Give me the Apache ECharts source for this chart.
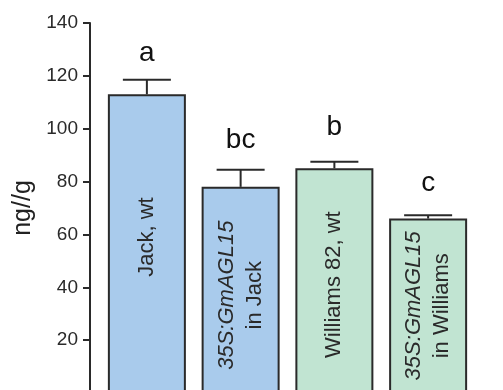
<!DOCTYPE html>
<html><head><meta charset="utf-8">
<script src="https://cdn.jsdelivr.net/npm/echarts@6/dist/echarts.min.js"></script>
<style>html,body{margin:0;padding:0;background:#fff}#c{width:503px;height:390px}</style>
</head><body><div id="c"></div>
<script>
const categories = ['Jack, wt', '35S:GmAGL15 in Jack', 'Williams 82, wt', '35S:GmAGL15 in Williams'];
const values = [113, 78, 85, 66];
const errors = [5.5, 6.5, 2.5, 1.3];
const letters = ['a', 'bc', 'b', 'c'];
const letterPos = [128.6, 95.6, 100.5, 79.5];
const barTextItalic = ['', '35S:GmAGL15', '', '35S:GmAGL15'];
const barTextPlain = ['Jack, wt', 'in Jack', 'Williams 82, wt', 'in Williams'];
const barTextPos = [59, 37, 41, 33];
const barColors = ['#A9CBEC', '#A9CBEC', '#C1E4D2', '#C1E4D2'];
const yTicks = [0, 20, 40, 60, 80, 100, 120, 140];

const FONT = 'Liberation Sans, Arial, sans-serif';
const chart = echarts.init(document.getElementById('c'));
chart.setOption({
  animation: false,
  grid: { left: 100, width: 375, top: 23, height: 370, containLabel: false, outerBoundsMode: 'none' },
  xAxis: { type: 'category', data: categories, show: false },
  yAxis: {
    type: 'value', min: yTicks[0], max: yTicks[yTicks.length - 1], interval: 20, offset: 10,
    name: 'ng//g', nameLocation: 'middle', nameGap: 46, nameRotate: 90,
    nameTextStyle: { fontSize: 25, color: '#222', fontFamily: FONT },
    axisLine: { show: true, lineStyle: { color: '#2a2a2a', width: 2 } },
    axisTick: { show: true, length: 7, lineStyle: { color: '#2a2a2a', width: 2 } },
    axisLabel: { fontSize: 19, color: '#2a2a2a', margin: 12, fontFamily: FONT, showMinLabel: false },
    splitLine: { show: false }
  },
  series: [
    {
      type: 'bar', barWidth: 78,
      data: values.map((v, i) => ({ value: v, itemStyle: { color: barColors[i] } })),
      itemStyle: { borderColor: '#2a2a2a', borderWidth: 2 }
    },
    {
      type: 'custom',
      data: values.map((v, i) => [i, v, errors[i], letterPos[i], barTextPos[i]]),
      renderItem: function (params, api) {
        const i = api.value(0);
        const top = api.coord([i, api.value(1)]);
        const cap = api.coord([i, api.value(1) + api.value(2)]);
        const lp = api.coord([i, api.value(3)]);
        const tp = api.coord([i, api.value(4)]);
        const hw = 24;
        const st = { stroke: '#2a2a2a', lineWidth: 2 };
        const it = barTextItalic[i];
        const txt = it ? '{i|' + it + '}\n' + barTextPlain[i] : barTextPlain[i];
        return {
          type: 'group',
          children: [
            { type: 'line', shape: { x1: cap[0], y1: top[1], x2: cap[0], y2: cap[1] }, style: st },
            { type: 'line', shape: { x1: cap[0] - hw, y1: cap[1], x2: cap[0] + hw, y2: cap[1] }, style: st },
            { type: 'text', x: lp[0], y: lp[1],
              style: { text: letters[i], font: '28px ' + FONT, fill: '#111', align: 'center', verticalAlign: 'middle' } },
            { type: 'text', x: tp[0], y: tp[1], rotation: Math.PI / 2,
              style: { text: txt, fontSize: 22, fontFamily: FONT, fill: '#2a2a2a', align: 'center', verticalAlign: 'middle',
                lineHeight: 28, rich: { i: { fontStyle: 'italic', fontSize: 22, fontFamily: FONT, fill: '#2a2a2a', lineHeight: 28 } } } }
          ]
        };
      },
      z: 5
    }
  ]
});
</script></body></html>
